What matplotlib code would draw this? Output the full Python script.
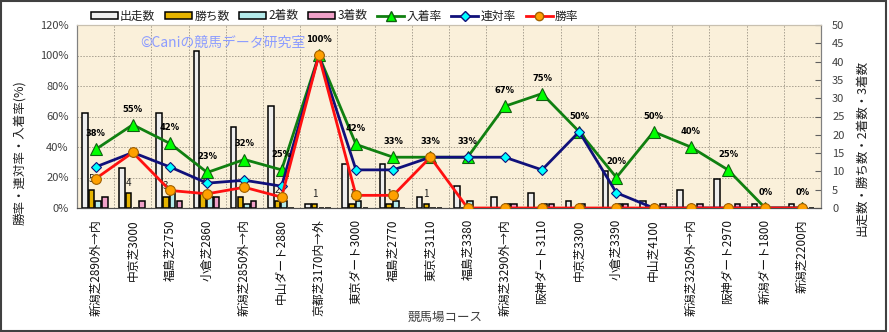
import numpy as np
import matplotlib.pyplot as plt
from matplotlib.patches import Patch, Rectangle
from matplotlib.lines import Line2D

plt.rcParams['font.family'] = ['Noto Sans CJK JP', 'DejaVu Sans']

# コース別の成績
courses = ['新潟芝2890外→内', '中京芝3000', '福島芝2750', '小倉芝2860', '新潟芝2850外→内',
           '中山ダート2880', '京都芝3170内→外', '東京ダート3000', '福島芝2770', '東京芝3110',
           '福島芝3380', '新潟芝3290外→内', '阪神ダート3110', '中京芝3300', '小倉芝3390',
           '中山芝4100', '新潟芝3250外→内', '阪神ダート2970', '新潟ダート1800', '新潟芝2200内']
starts = [26, 11, 26, 43, 22, 28, 1, 12, 12, 3, 6, 3, 4, 2, 10, 2, 5, 8, 1, 1]
wins = [5, 4, 3, 4, 3, 2, 1, 1, 1, 1, 0, 0, 0, 0, 0, 0, 0, 0, 0, 0]
seconds = [2, 0, 4, 3, 1, 2, 0, 2, 2, 0, 2, 1, 1, 1, 1, 0, 0, 0, 0, 0]
thirds = [3, 2, 2, 3, 2, 0, 0, 0, 0, 0, 0, 1, 1, 0, 1, 1, 1, 1, 0, 0]

# 率(%)
place_rate = [38.4, 54.6, 42.3, 23.3, 31.8, 25.0, 100.0, 41.7, 33.3, 33.3,
              33.3, 66.7, 75.0, 50.0, 20.0, 50.0, 40.0, 25.0, 0.0, 0.0]
quinella_rate = [26.9, 36.4, 26.9, 16.3, 18.2, 14.3, 100.0, 25.0, 25.0, 33.3,
                 33.3, 33.3, 25.0, 50.0, 10.0, 0.0, 0.0, 0.0, 0.0, 0.0]
win_rate = [19.2, 36.4, 11.5, 9.3, 13.6, 7.1, 100.0, 8.3, 8.3, 33.3,
            0.0, 0.0, 0.0, 0.0, 0.0, 0.0, 0.0, 0.0, 0.0, 0.0]

bar_colors = ['#EEEEEE', '#E6B400', '#B4EBEB', '#F0A0C8']
bar_names = ['出走数', '勝ち数', '2着数', '3着数']

x = np.arange(len(courses))

fig = plt.figure(figsize=(8.89, 3.32), dpi=100)
ax = fig.add_axes([77 / 889, 124 / 332, 744 / 889, 183 / 332])
ax2 = ax.twinx()

# 棒グラフ(件数)は右軸、折れ線(率)は左軸
ax.set_facecolor('#FAF0DA')
ax.set_xlim(-0.5, len(courses) - 0.5)
ax.set_ylim(0, 50)
ax2.set_ylim(0, 120)

for v in range(20, 121, 20):
    ax.axhline(v * 50 / 120, color='#A8A090', lw=0.7, ls=(0, (1.5, 1.5)), zorder=0)
for i in range(len(courses) - 1):
    ax.axvline(i + 0.5, color='#A8A090', lw=0.7, ls=(0, (1.5, 1.5)), zorder=0)

offsets = (np.arange(4) - 1.5) * 0.18 - 0.02
for off, vals, c in zip(offsets, (starts, wins, seconds, thirds), bar_colors):
    ax.bar(x + off, vals, width=0.15, color=c, edgecolor='black', lw=1.1, zorder=2)

for i, w in enumerate(wins):
    if w > 0:
        ax.annotate(str(w), (x[i] + offsets[1], w), xytext=(0, 4), textcoords='offset points',
                    ha='center', va='bottom', fontsize=7, color='#202020', zorder=3)

ax2.plot(x, place_rate, color='#108010', lw=2, marker='^', ms=8,
         mfc='#00FF00', mec='#106010', mew=0.8, zorder=4)
ax2.plot(x, quinella_rate, color='#10107A', lw=2, marker='D', ms=5.5,
         mfc='#00FFFF', mec='#10107A', mew=0.8, zorder=5)
ax2.plot(x, win_rate, color='#FF1010', lw=2, marker='o', ms=7,
         mfc='#FFA000', mec='#A06000', mew=0.8, zorder=6)

for i, r in enumerate(place_rate):
    ax2.annotate(f'{r:.0f}%', (x[i], r), xytext=(0, 8), textcoords='offset points',
                 ha='center', va='bottom', fontsize=6, fontweight='bold',
                 family='DejaVu Sans', color='black', zorder=7)

# 軸の設定
ax.yaxis.tick_right()
ax.set_yticks(range(0, 51, 5))
ax.tick_params(axis='y', direction='in', length=4, labelsize=8, labelcolor='#404040',
               color='#606060', pad=8)
ax2.yaxis.tick_left()
ax2.set_yticks(range(0, 121, 20))
ax2.set_yticklabels([f'{v}%' for v in range(0, 121, 20)])
ax2.tick_params(axis='y', length=0, labelsize=8, labelcolor='#404040', pad=6)

ax.set_xticks(x)
ax.set_xticklabels(courses, rotation=90, fontsize=8.5, color='#101010')
ax.tick_params(axis='x', length=0, pad=8)

for a in (ax, ax2):
    a.spines['left'].set_color('#808080')
    a.spines['right'].set_color('#808080')
    a.spines['top'].set_color('#C8C0B0')
    a.spines['bottom'].set_color('#505050')

ax.text(0.085, 0.90, '©Caniの競馬データ研究室', transform=ax.transAxes,
        fontsize=10, color='#8C9CFF', va='center', zorder=3)

fig.text(20 / 889, 1 - 153 / 332, '勝率・連対率・入着率(%)', rotation=90,
         ha='center', va='center', fontsize=9, color='#202020')
fig.text(862 / 889, 1 - 148 / 332, '出走数・勝ち数・2着数・3着数', rotation=90,
         ha='center', va='center', fontsize=9, color='#202020')
fig.text(445 / 889, 1 - 317 / 332, '競馬場コース', ha='center', va='center',
         fontsize=9, color='#404040')

handles = [Patch(facecolor=c, edgecolor='black', lw=1.1) for c in bar_colors]
handles += [
    Line2D([], [], color='#108010', lw=2, marker='^', ms=7, mfc='#00FF00', mec='#106010'),
    Line2D([], [], color='#10107A', lw=2, marker='D', ms=5, mfc='#00FFFF', mec='#10107A'),
    Line2D([], [], color='#FF1010', lw=2, marker='o', ms=6, mfc='#FFA000', mec='#A06000'),
]
labels = bar_names + ['入着率', '連対率', '勝率']
fig.legend(handles, labels, loc='center left', bbox_to_anchor=(80 / 889, 1 - 16 / 332),
           ncol=7, frameon=False, fontsize=8.5, handlelength=2.3, handleheight=0.5,
           handletextpad=0.2, columnspacing=0.8, labelcolor='#202020')

fig.add_artist(Rectangle((0.001, 0.002), 0.996, 0.995, transform=fig.transFigure,
                         fill=False, ec='#404040', lw=1.5))

fig.savefig('out.png', dpi=100)
